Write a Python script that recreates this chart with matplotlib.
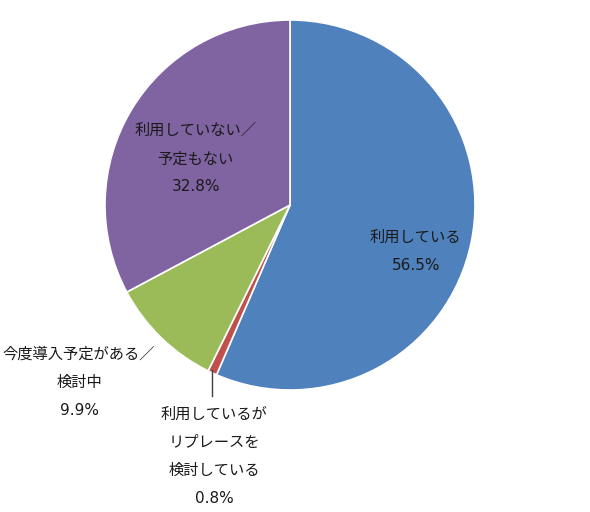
import matplotlib.pyplot as plt

# DejaVu for digits (wider, like the original), CJK font for the Japanese
plt.rcParams['font.family'] = ['DejaVu Sans', 'Noto Sans CJK JP']

# slices clockwise from 12 o'clock
labels = ["利用している", "利用しているが\nリプレースを\n検討している",
          "今度導入予定がある／\n検討中", "利用していない／\n予定もない"]
shares = [56.5, 0.8, 9.9, 32.8]
colors = ["#4F81BD", "#C0504D", "#9BBB59", "#8064A2"]

# label centres in pie units (radius = 1)
label_pos = [(0.68, -0.25), (-0.41, -1.36), (-1.14, -0.96), (-0.51, 0.25)]

W, H = 590, 512
cx, cy, r = 290, 205, 185

fig = plt.figure(figsize=(W / 100, H / 100), dpi=100)
ax = fig.add_axes([(cx - r) / W, (H - cy - r) / H, 2 * r / W, 2 * r / H])

ax.pie(shares, colors=colors, startangle=90, counterclock=False,
       wedgeprops={'edgecolor': 'white', 'linewidth': 1.2})
ax.set_xlim(-1, 1)
ax.set_ylim(-1, 1)
ax.set_aspect('equal')
ax.axis('off')

for lab, val, (x, y) in zip(labels, shares, label_pos):
    ax.text(x, y, f"{lab}\n{val:.1f}%", ha='center', va='center',
            fontsize=11, color='#1a1a1a', linespacing=2.1)

# leader line for the thin red slice
ax.plot([-0.42, -0.42], [-0.89, -1.03], color='#404040', lw=1,
        clip_on=False)

fig.savefig("out.png", dpi=100)
